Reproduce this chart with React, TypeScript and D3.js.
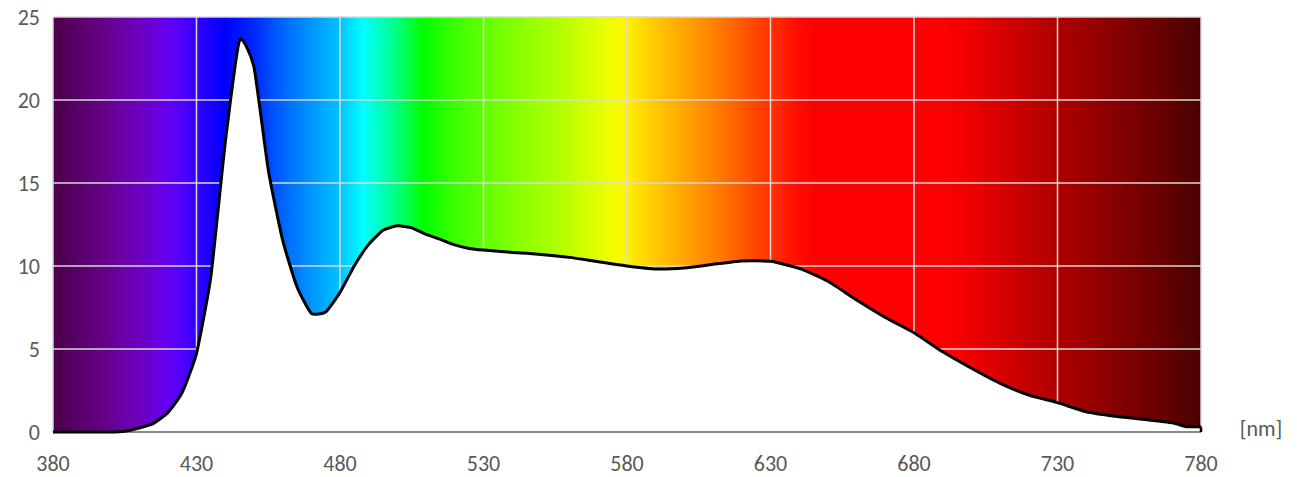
import React from "react";
import * as d3 from "d3";

const wavelengths = [380, 385, 390, 395, 400, 405, 410, 415, 420, 425, 430, 435, 440, 445, 450, 455, 460, 465, 470, 475, 480, 485, 490, 495, 500, 505, 510, 515, 520, 525, 530, 540, 550, 560, 570, 580, 590, 600, 610, 620, 630, 640, 650, 660, 670, 680, 690, 700, 710, 720, 730, 740, 750, 760, 770, 775, 780];
const intensity = [0, 0, 0, 0, 0, 0.05, 0.24, 0.52, 1.16, 2.37, 4.74, 9.36, 17.4, 23.6, 22.0, 15.8, 11.57, 8.75, 7.15, 7.23, 8.4, 10.02, 11.3, 12.15, 12.42, 12.3, 11.9, 11.6, 11.27, 11.06, 10.96, 10.82, 10.7, 10.52, 10.25, 10.0, 9.82, 9.88, 10.1, 10.3, 10.28, 9.86, 9.08, 7.95, 6.9, 5.98, 4.83, 3.84, 2.93, 2.23, 1.77, 1.22, 0.95, 0.76, 0.55, 0.32, 0.32];

const xTicks = [380, 430, 480, 530, 580, 630, 680, 730, 780];
const yTicks = [0, 5, 10, 15, 20, 25];
const axisUnit = "[nm]";

const spectrumStops: [number, string][] = [
  [380, "rgb(75,0,75)"],
  [395, "rgb(98,0,125)"],
  [410, "rgb(110,0,190)"],
  [420, "rgb(100,0,240)"],
  [425, "rgb(80,0,255)"],
  [432, "rgb(40,0,255)"],
  [440, "rgb(0,0,255)"],
  [450, "rgb(0,40,255)"],
  [460, "rgb(0,100,255)"],
  [470, "rgb(0,150,255)"],
  [480, "rgb(0,195,255)"],
  [488, "rgb(0,255,255)"],
  [498, "rgb(0,255,150)"],
  [509, "rgb(0,255,0)"],
  [520, "rgb(60,255,0)"],
  [540, "rgb(130,255,0)"],
  [560, "rgb(190,255,0)"],
  [574, "rgb(240,255,0)"],
  [579, "rgb(255,245,0)"],
  [590, "rgb(255,200,0)"],
  [600, "rgb(255,165,0)"],
  [610, "rgb(255,130,0)"],
  [620, "rgb(255,90,0)"],
  [630, "rgb(255,50,0)"],
  [640, "rgb(255,10,0)"],
  [645, "rgb(255,0,0)"],
  [690, "rgb(255,0,0)"],
  [700, "rgb(240,0,0)"],
  [710, "rgb(215,0,0)"],
  [720, "rgb(195,0,0)"],
  [730, "rgb(175,0,0)"],
  [740, "rgb(155,0,0)"],
  [750, "rgb(135,0,0)"],
  [760, "rgb(115,0,0)"],
  [770, "rgb(95,0,0)"],
  [780, "rgb(75,0,0)"],
];

const W = 1297;
const H = 477;
const M = { left: 53, right: 1201, top: 17, bottom: 432 };
const FONT = "Calibri, Carlito, Lato, 'Open Sans', sans-serif";
const FS = 22;

export default function App() {
  const x = d3.scaleLinear().domain([380, 780]).range([M.left, M.right]);
  const y = d3.scaleLinear().domain([0, 25]).range([M.bottom, M.top]);

  const pts: [number, number][] = wavelengths.map((w, i) => [w, intensity[i]]);
  const curve = d3.curveCardinal.tension(0.5);

  const area = d3
    .area<[number, number]>()
    .x((d) => x(d[0]))
    .y0(y(0))
    .y1((d) => y(d[1]))
    .curve(curve);

  const line = d3
    .line<[number, number]>()
    .x((d) => x(d[0]))
    .y((d) => y(d[1]))
    .curve(curve);

  const lastW = wavelengths[wavelengths.length - 1];
  const lastV = intensity[intensity.length - 1];

  return (
    <svg
      width={W}
      height={H}
      style={{ position: "absolute", left: 0, top: 0, background: "#fff" }}
    >
      <defs>
        <linearGradient id="spec" x1={M.left} x2={M.right} y1={0} y2={0} gradientUnits="userSpaceOnUse">
          {spectrumStops.map(([w, c], i) => (
            <stop key={i} offset={(w - 380) / 400} stopColor={c} />
          ))}
        </linearGradient>
      </defs>
      <rect x={M.left} y={M.top} width={M.right - M.left} height={M.bottom - M.top} fill="url(#spec)" />
      {yTicks.map((t) => (
        <line key={"gy" + t} x1={M.left} x2={M.right} y1={y(t)} y2={y(t)} stroke="#d9d9d9" strokeWidth={1.5} />
      ))}
      {xTicks.map((t) => (
        <line key={"gx" + t} x1={x(t)} x2={x(t)} y1={M.top} y2={M.bottom} stroke="#d9d9d9" strokeWidth={1.5} />
      ))}
      <path d={area(pts) || ""} fill="#ffffff" />
      <line x1={M.left} x2={M.right} y1={y(0)} y2={y(0)} stroke="#898989" strokeWidth={2} />
      <path d={line(pts) || ""} fill="none" stroke="#000" strokeWidth={3} strokeLinejoin="round" />
      <line x1={x(lastW)} x2={x(lastW)} y1={y(lastV)} y2={y(0)} stroke="#000" strokeWidth={2.5} />
      {yTicks.map((t) => (
        <text key={"ty" + t} x={40} y={y(t)} dy="0.35em" textAnchor="end" fontFamily={FONT} fontSize={FS} fill="#595959">
          {t}
        </text>
      ))}
      {xTicks.map((t) => (
        <text key={"tx" + t} x={x(t)} y={463} dy="0.35em" textAnchor="middle" fontFamily={FONT} fontSize={FS} fill="#595959">
          {t}
        </text>
      ))}
      <text x={1261} y={428} dy="0.35em" textAnchor="middle" fontFamily={FONT} fontSize={FS} fill="#595959">
        {axisUnit}
      </text>
    </svg>
  );
}
